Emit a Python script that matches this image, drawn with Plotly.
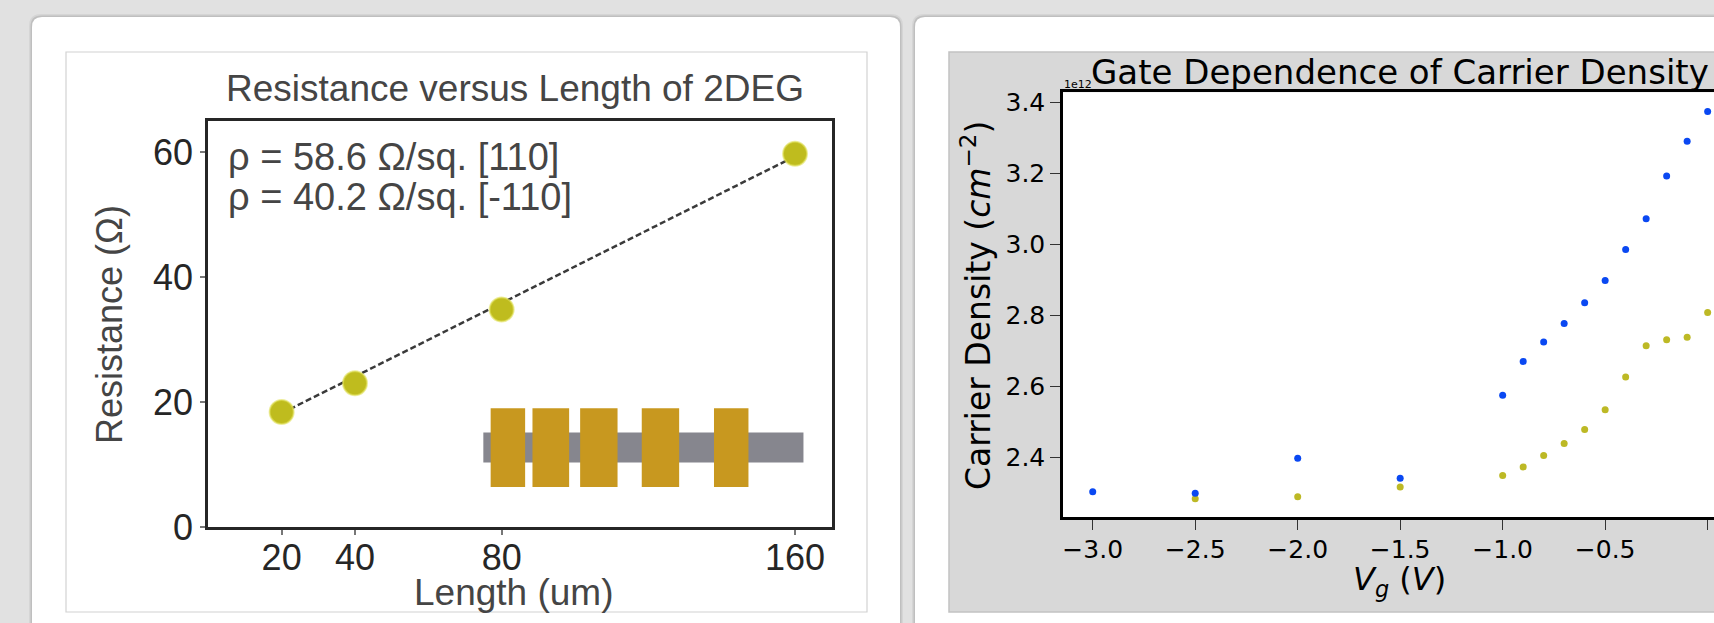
import plotly.graph_objects as go

W, H = 1714, 623

# ---------------- data: left chart (Resistance vs Length) ----------------
length_um = [20, 40, 80, 160]
resistance_ohm = [18.4, 23.0, 34.8, 59.7]
fit_length_um = [20, 160]
fit_resistance_ohm = [18.2, 59.3]
left_xticks = [20, 40, 80, 160]
left_yticks = [0, 20, 40, 60]
rho_labels = ["ρ = 58.6 Ω/sq. [110]", "ρ = 40.2 Ω/sq. [-110]"]

# ---------------- data: right chart (carrier density, units of 1e12 cm^-2) ----------------
vg_blue = [-3.0, -2.5, -2.0, -1.5, -1.0, -0.9, -0.8, -0.7, -0.6, -0.5, -0.4, -0.3, -0.2, -0.1, 0.0]
n_blue = [2.303, 2.299, 2.397, 2.341, 2.575, 2.670, 2.725, 2.777, 2.835, 2.898, 2.985, 3.072, 3.192, 3.290, 3.374]
vg_olive = [-2.5, -2.0, -1.5, -1.0, -0.9, -0.8, -0.7, -0.6, -0.5, -0.4, -0.3, -0.2, -0.1, 0.0]
n_olive = [2.283, 2.289, 2.316, 2.349, 2.373, 2.405, 2.439, 2.478, 2.534, 2.626, 2.714, 2.731, 2.738, 2.808]
right_xticks = [-3.0, -2.5, -2.0, -1.5, -1.0, -0.5, 0.0]
right_yticks = [2.4, 2.6, 2.8, 3.0, 3.2, 3.4]

# ---------------- layout geometry (pixels) ----------------
LX0, LX1, LY0, LY1 = 208.3, 831.7, 120.7, 527.0
RX0, RX1, RY0, RY1 = 1063.0, 1714.0, 92.3, 517.3


def px(x):
    return x / W


def py(y):
    return 1 - y / H


def rrect(x0, y0, x1, y1, r):
    def P(x, y):
        return f"{px(x):.6f},{py(y):.6f}"
    return (f"M {P(x0 + r, y0)} L {P(x1 - r, y0)} Q {P(x1, y0)} {P(x1, y0 + r)} "
            f"L {P(x1, y1 - r)} Q {P(x1, y1)} {P(x1 - r, y1)} L {P(x0 + r, y1)} "
            f"Q {P(x0, y1)} {P(x0, y1 - r)} L {P(x0, y0 + r)} Q {P(x0, y0)} {P(x0 + r, y0)} Z")


fig = go.Figure()

# left chart traces
fig.add_trace(go.Scatter(x=fit_length_um, y=fit_resistance_ohm, mode="lines",
                         line=dict(color="#3a3a3a", width=2.5, dash="6px,3px"),
                         xaxis="x", yaxis="y", showlegend=False, hoverinfo="skip"))
fig.add_trace(go.Scatter(x=length_um, y=resistance_ohm, mode="markers",
                         marker=dict(size=24, color="#bfbc1e",
                                     line=dict(color="rgba(225,225,90,0.6)", width=2)),
                         xaxis="x", yaxis="y", showlegend=False))

# right chart traces
fig.add_trace(go.Scatter(x=vg_olive, y=n_olive, mode="markers",
                         marker=dict(size=7, color="#bdb925"),
                         xaxis="x2", yaxis="y2", showlegend=False))
fig.add_trace(go.Scatter(x=vg_blue, y=n_blue, mode="markers",
                         marker=dict(size=7, color="#0a48f2"),
                         xaxis="x2", yaxis="y2", showlegend=False))

shapes = []
# cards with soft shadows
for (x0, x1) in [(32, 900), (915, 1740)]:
    shapes.append(dict(type="path", path=rrect(x0 - 3, 17 - 3, x1 + 3, 660, 12),
                       fillcolor="rgba(0,0,0,0.05)", line=dict(width=0), layer="below",
                       xref="paper", yref="paper"))
    shapes.append(dict(type="path", path=rrect(x0 - 1.5, 17 - 1.5, x1 + 1.5, 660, 11),
                       fillcolor="rgba(0,0,0,0.10)", line=dict(width=0), layer="below",
                       xref="paper", yref="paper"))
    shapes.append(dict(type="path", path=rrect(x0, 17, x1, 660, 10),
                       fillcolor="#ffffff", line=dict(width=0), layer="below",
                       xref="paper", yref="paper"))
# inner figure boxes
shapes.append(dict(type="rect", x0=px(66), x1=px(867), y0=py(612), y1=py(52),
                   fillcolor="#ffffff", line=dict(color="#d2d2d2", width=1.2), layer="below",
                   xref="paper", yref="paper"))
shapes.append(dict(type="rect", x0=px(949), x1=px(1730), y0=py(612), y1=py(52),
                   fillcolor="#d8d8d8", line=dict(color="#c2c2c2", width=1.5), layer="below",
                   xref="paper", yref="paper"))
# right axes background
shapes.append(dict(type="rect", x0=px(RX0), x1=px(RX1 + 10), y0=py(RY1), y1=py(RY0),
                   fillcolor="#ffffff", line=dict(width=0), layer="below",
                   xref="paper", yref="paper"))

# device schematic inset (left chart, data coordinates)
bar = (75.0, 162.3, 10.3, 15.1)
pads = [(77.0, 86.4), (88.4, 98.4), (101.4, 111.6), (118.2, 128.4), (137.9, 147.3)]
pad_y = (6.4, 19.0)
shapes.append(dict(type="rect", xref="x", yref="y", x0=bar[0], x1=bar[1], y0=bar[2], y1=bar[3],
                   fillcolor="#86868e", line=dict(width=0), layer="below"))
for (a, b) in pads:
    shapes.append(dict(type="rect", xref="x", yref="y", x0=a, x1=b, y0=pad_y[0], y1=pad_y[1],
                       fillcolor="#c8981f", line=dict(width=0), layer="below"))

LF = "Liberation Sans, Arial, sans-serif"
RF = "DejaVu Sans, sans-serif"

annotations = [
    dict(text="Resistance versus Length of 2DEG", x=px(514.5), y=py(89), xanchor="center",
         yanchor="middle", font=dict(family=LF, size=37, color="#454545")),
    dict(text=rho_labels[0], x=px(226), y=py(157), xanchor="left", yanchor="middle",
         font=dict(family=LF, size=38, color="#454545")),
    dict(text=rho_labels[1], x=px(226), y=py(197), xanchor="left", yanchor="middle",
         font=dict(family=LF, size=38, color="#454545")),
    dict(text="Length (um)", x=px(514), y=py(592), xanchor="center", yanchor="middle",
         font=dict(family=LF, size=37, color="#454545")),
    dict(text="Resistance (Ω)", x=px(109), y=py(325), xanchor="center", yanchor="middle",
         textangle=-90, font=dict(family=LF, size=36, color="#454545")),
    dict(text="Gate Dependence of Carrier Density", x=px(1399.5), y=py(72.5), xanchor="center",
         yanchor="middle", font=dict(family=RF, size=34, color="#000000")),
    dict(text="1e12", x=px(1062), y=py(84), xanchor="left", yanchor="middle",
         font=dict(family=RF, size=11, color="#000000")),
    dict(text="<i>V</i><sub><i>g</i></sub> (<i>V</i>)", x=px(1399.5), y=py(581),
         xanchor="center", yanchor="middle", font=dict(family=RF, size=32, color="#000000")),
    dict(text="Carrier Density (<i>cm</i><sup>−2</sup>)", x=px(976), y=py(305),
         xanchor="center", yanchor="middle", textangle=-90,
         font=dict(family=RF, size=33, color="#000000")),
]
for a in annotations:
    a.update(xref="paper", yref="paper", showarrow=False)

common = dict(showgrid=False, zeroline=False, showline=True, automargin=False, ticks="outside")

fig.update_layout(
    width=W, height=H, margin=dict(l=0, r=0, t=0, b=0, pad=0, autoexpand=False),
    paper_bgcolor="#e1e1e1", plot_bgcolor="rgba(0,0,0,0)",
    showlegend=False, shapes=shapes, annotations=annotations,
    xaxis=dict(domain=[px(LX0), px(LX1)], range=[0, 170], tickvals=left_xticks, mirror=True,
               linecolor="#262626", linewidth=3, ticklen=5, tickwidth=1.5, tickcolor="#777",
               anchor="y", ticklabelstandoff=-8,
               tickfont=dict(family=LF, size=36, color="#262626"), **common),
    yaxis=dict(domain=[py(LY1), py(LY0)], range=[0, 65], tickvals=left_yticks, mirror=True,
               linecolor="#262626", linewidth=3, ticklen=5, tickwidth=1.5, tickcolor="#777",
               anchor="x", tickfont=dict(family=LF, size=36, color="#262626"), **common),
    xaxis2=dict(domain=[px(RX0), 1.0], range=[-3.145, 0.031], tickvals=right_xticks,
                tickformat=".1f", mirror=True, linecolor="#000000", linewidth=2.5, ticklen=10,
                tickwidth=1, tickcolor="#333", anchor="y2", ticklabelstandoff=-2,
                tickfont=dict(family=RF, size=25, color="#000000"), **common),
    yaxis2=dict(domain=[py(RY1), py(RY0)], range=[2.231, 3.428], tickvals=right_yticks,
                tickformat=".1f", mirror=False, linecolor="#000000", linewidth=2.5, ticklen=10,
                tickwidth=1, tickcolor="#333", anchor="x2",
                tickfont=dict(family=RF, size=25, color="#000000"), **common),
)

fig.write_html("out.html", config={"displayModeBar": False},
               post_script="document.body.style.margin='0';document.body.style.overflow='hidden';")
